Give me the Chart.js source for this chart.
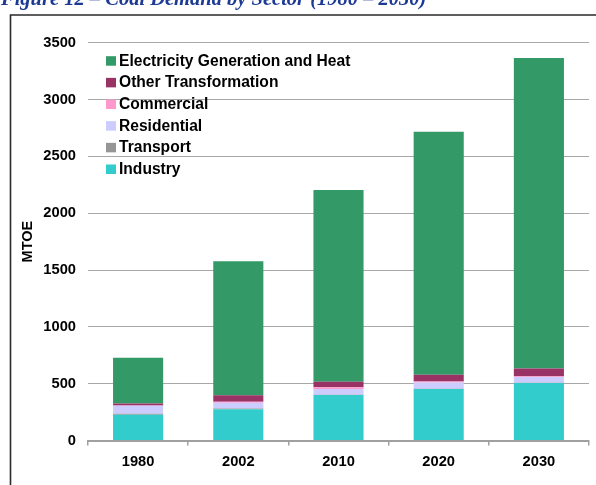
<!DOCTYPE html>
<html>
<head>
<meta charset="utf-8">
<script src="https://cdn.jsdelivr.net/npm/chart.js@4.4.0/dist/chart.umd.min.js"></script>
<style>
  html, body { margin: 0; padding: 0; background: #ffffff; overflow: hidden; }
  #wrap { position: relative; width: 596px; height: 485px; }
  canvas { display: block; }
</style>
</head>
<body>
<div id="wrap"><canvas id="c" width="596" height="485"></canvas></div>
<script>
const titleText = 'Figure 12 \u2013 Coal Demand by Sector (1980 \u2013 2030)';
const yAxisTitle = 'MTOE';
const categories = ['1980', '2002', '2010', '2020', '2030'];
const yTicks = [0, 500, 1000, 1500, 2000, 2500, 3000, 3500];

const industry            = [227, 274, 400, 453, 506];
const transport           = [9, 8, 3, 3, 3];
const residential         = [70, 50, 50, 55, 50];
const commercial          = [2, 8, 15, 9, 6];
const otherTransformation = [18, 59, 50, 59, 68];
const electricity         = [402, 1178, 1685, 2137, 2733];

const seriesNames = ['Industry', 'Transport', 'Residential', 'Commercial', 'Other Transformation', 'Electricity Generation and Heat'];
const seriesColors = ['#33CCCC', '#969696', '#CCCCFF', '#FF99CC', '#993366', '#339966'];
const seriesValues = [industry, transport, residential, commercial, otherTransformation, electricity];

const datasets = seriesNames.map((name, i) => ({
  label: name,
  data: seriesValues[i],
  backgroundColor: seriesColors[i],
  borderWidth: 0,
  categoryPercentage: 0.5,
  barPercentage: 1.0
}));

const decorPlugin = {
  id: 'decor',
  afterDraw(chart) {
    const ctx = chart.ctx;
    ctx.save();
    // title (cut off at the top as in the reference)
    ctx.font = 'italic bold 20.5px "Liberation Serif", "DejaVu Serif", serif';
    ctx.fillStyle = '#1c3a94';
    ctx.textBaseline = 'alphabetic';
    ctx.textAlign = 'left';
    ctx.fillText(titleText, 1, 5);
    // frame
    ctx.strokeStyle = '#2a2a2a';
    ctx.lineWidth = 1.6;
    ctx.beginPath();
    ctx.moveTo(10.5, 490);
    ctx.lineTo(10.5, 15);
    ctx.lineTo(600, 15);
    ctx.stroke();
    // legend (top of stack first)
    const ds = chart.data.datasets;
    ctx.font = 'bold 15.6px "Liberation Sans", Arial, sans-serif';
    ctx.fillStyle = '#000';
    let base = 65.7;
    for (let i = ds.length - 1; i >= 0; i--) {
      ctx.fillStyle = ds[i].backgroundColor;
      ctx.fillRect(106, base - 9.5, 10, 9.5);
      ctx.fillStyle = '#000';
      ctx.fillText(ds[i].label, 119, base);
      base += 21.66;
    }
    ctx.restore();
  }
};

new Chart(document.getElementById('c'), {
  type: 'bar',
  data: { labels: categories, datasets: datasets },
  options: {
    responsive: false,
    animation: false,
    devicePixelRatio: 1,
    layout: { padding: { top: 42.7, right: 7, left: 0, bottom: 0 } },
    plugins: {
      legend: { display: false },
      tooltip: { enabled: false },
      title: { display: false }
    },
    scales: {
      x: {
        stacked: true,
        offset: true,
        grid: { display: true, drawOnChartArea: false, drawTicks: true, tickLength: 5, color: '#a0a0a0', lineWidth: 1.5 },
        border: { display: true, color: '#a0a0a0', width: 2 },
        ticks: { color: '#000', font: { family: '"Liberation Sans", Arial, sans-serif', size: 14.7, weight: 'bold' }, padding: 8 },
        afterFit(scale) { scale.height = 44.5; }
      },
      y: {
        stacked: true,
        min: 0,
        max: 3500,
        afterBuildTicks(scale) { scale.ticks = yTicks.map(v => ({ value: v })); },
        grid: { color: '#a8a8a8', lineWidth: 1, drawTicks: false },
        border: { display: false },
        ticks: {
          color: '#000',
          font: { family: '"Liberation Sans", Arial, sans-serif', size: 14.7, weight: 'bold' },
          padding: 12,
          callback: (v) => String(v)
        },
        title: { display: true, text: yAxisTitle, color: '#000', font: { family: '"Liberation Sans", Arial, sans-serif', size: 14.5, weight: 'bold' }, padding: { top: 19, bottom: 0 } },
        afterFit(scale) { scale.width = 88; }
      }
    }
  },
  plugins: [decorPlugin]
});
</script>
</body>
</html>
